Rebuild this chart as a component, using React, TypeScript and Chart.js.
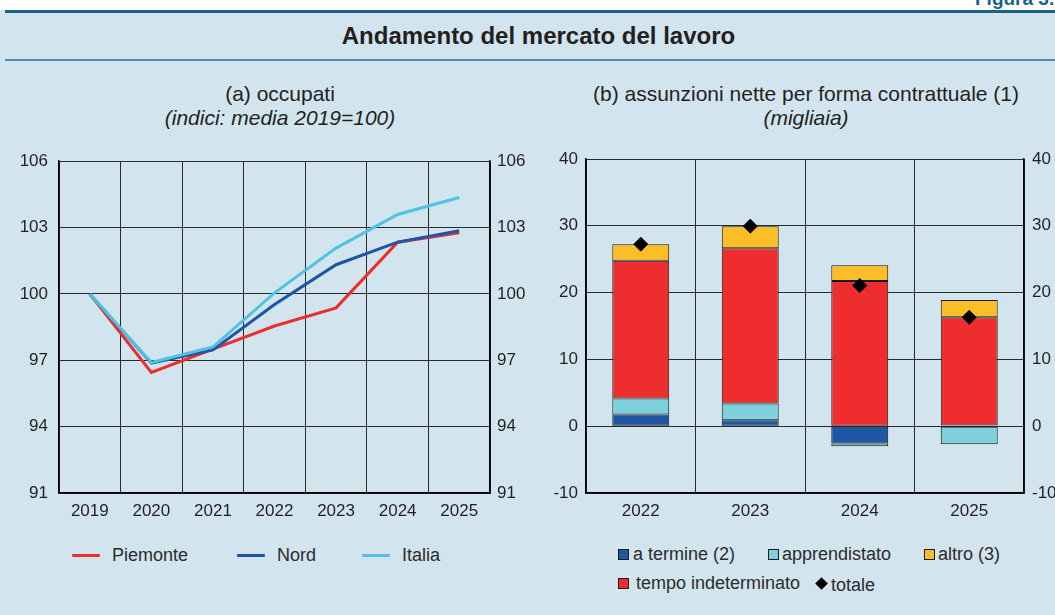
import React, { useEffect, useRef } from "react";
import { Chart, registerables } from "chart.js";

Chart.register(...registerables);

const years = ["2019", "2020", "2021", "2022", "2023", "2024", "2025"];
const piemonte = [100, 96.45, 97.5, 98.55, 99.37, 102.34, 102.77];
const nord = [100, 96.87, 97.47, 99.52, 101.32, 102.34, 102.86];
const italia = [100, 96.9, 97.6, 100.05, 102.07, 103.59, 104.36];

const barYears = ["2022", "2023", "2024", "2025"];
const aTermine = [1.75, 0.9, -2.6, 0.1];
const apprendistato = [2.4, 2.5, -0.4, -2.7];
const tempoIndeterminato = [20.6, 23.25, 21.75, 16.2];
const altro = [2.5, 3.3, 2.35, 2.6];
const totale = [27.25, 29.95, 21.05, 16.3];

const FONT = "'Liberation Sans', Arial, Helvetica, sans-serif";
const TXT = "#231f20";
const GRID = "#2a2a2a";
const BG = "#d2e4ee";

const C_RED = "#ea2f2d";
const C_BLUE = "#1f56a4";
const C_CYAN = "#4fc3df";
const C_BAR_CYAN = "#7dd0dc";
const C_YELLOW = "#fbbe27";

function fixW(w: number) {
  return (scale: any) => {
    scale.width = w;
  };
}
function fixH(h: number) {
  return (scale: any) => {
    scale.height = h;
  };
}

const tickFont = { family: FONT, size: 17 };

function LineChart() {
  const ref = useRef<HTMLCanvasElement>(null);
  useEffect(() => {
    const chart = new Chart(ref.current!, {
      type: "line",
      data: {
        labels: years,
        datasets: [
          { label: "Piemonte", data: piemonte, borderColor: C_RED, borderWidth: 3, pointRadius: 0, order: 2, tension: 0 },
          { label: "Nord", data: nord, borderColor: C_BLUE, borderWidth: 3, pointRadius: 0, order: 1, tension: 0 },
          { label: "Italia", data: italia, borderColor: C_CYAN, borderWidth: 3, pointRadius: 0, order: 0, tension: 0 },
        ],
      },
      options: {
        responsive: false,
        animation: false,
        layout: { padding: { top: 19, left: 0, right: 0, bottom: 0 } },
        plugins: { legend: { display: false }, tooltip: { enabled: false } },
        scales: {
          x: {
            offset: true,
            grid: { offset: true, color: GRID, lineWidth: 1, drawTicks: false },
            border: { color: "#000", width: 1.5 },
            ticks: { color: TXT, font: tickFont, padding: 8, maxRotation: 0 },
            afterFit: fixH(37),
          },
          y: {
            position: "left",
            min: 91,
            max: 106,
            grid: { color: GRID, lineWidth: 1, drawTicks: false },
            border: { color: "#000", width: 1.5 },
            ticks: { color: TXT, font: tickFont, padding: 11, stepSize: 3 },
            afterFit: fixW(59),
          },
          y2: {
            position: "right",
            min: 91,
            max: 106,
            grid: { display: false, drawTicks: false },
            border: { color: "#000", width: 1.5 },
            ticks: { color: TXT, font: tickFont, padding: 7, stepSize: 3 },
            afterFit: fixW(55),
          },
        },
      },
    });
    return () => chart.destroy();
  }, []);
  return <canvas ref={ref} width={545} height={390} style={{ display: "block" }} />;
}

function BarChart() {
  const ref = useRef<HTMLCanvasElement>(null);
  useEffect(() => {
    const barCommon = {
      type: "bar" as const,
      stack: "s",
      borderColor: "#1a1a1a",
      borderWidth: 1,
      borderSkipped: false,
      categoryPercentage: 1,
      barPercentage: 0.52,
      order: 1,
    };
    const chart = new Chart(ref.current!, {
      type: "bar",
      data: {
        labels: barYears,
        datasets: [
          { ...barCommon, label: "a termine (2)", data: aTermine, backgroundColor: C_BLUE },
          { ...barCommon, label: "apprendistato", data: apprendistato, backgroundColor: C_BAR_CYAN },
          { ...barCommon, label: "tempo indeterminato", data: tempoIndeterminato, backgroundColor: "#ee2e2e" },
          { ...barCommon, label: "altro (3)", data: altro, backgroundColor: C_YELLOW },
          {
            type: "line" as const,
            label: "totale",
            data: totale,
            stack: "tot",
            showLine: false,
            pointStyle: "rectRot",
            pointRadius: 7,
            pointBackgroundColor: "#000",
            pointBorderColor: "#000",
            borderColor: "#000",
            order: 0,
          } as any,
        ],
      },
      options: {
        responsive: false,
        animation: false,
        layout: { padding: { top: 19, left: 0, right: 0, bottom: 0 } },
        plugins: { legend: { display: false }, tooltip: { enabled: false } },
        scales: {
          x: {
            stacked: true,
            grid: { offset: true, color: GRID, lineWidth: 1, drawTicks: false },
            border: { color: "#000", width: 1.5 },
            ticks: { color: TXT, font: tickFont, padding: 8, maxRotation: 0 },
            afterFit: fixH(37),
          },
          y: {
            stacked: true,
            position: "left",
            min: -10,
            max: 40,
            grid: { color: GRID, lineWidth: 1, drawTicks: false },
            border: { color: "#000", width: 1.5 },
            ticks: { color: TXT, font: tickFont, padding: 8, stepSize: 10 },
            afterFit: fixW(41),
          },
          y2: {
            position: "right",
            min: -10,
            max: 40,
            grid: { display: false, drawTicks: false },
            border: { color: "#000", width: 1.5 },
            ticks: { color: TXT, font: tickFont, padding: 8, stepSize: 10 },
            afterFit: fixW(51),
          },
        },
      },
    });
    return () => chart.destroy();
  }, []);
  return <canvas ref={ref} width={530} height={390} style={{ display: "block" }} />;
}

const abs = (s: React.CSSProperties): React.CSSProperties => ({ position: "absolute", ...s });

function LineKey({ x, color, label, tx }: { x: number; color: string; label: string; tx: number }) {
  return (
    <>
      <div style={abs({ left: x, top: 554, width: 28, height: 3, background: color, borderRadius: 1 })} />
      <div style={abs({ left: tx, top: 544, fontSize: 18, lineHeight: "22px", color: "#2b2b2b" })}>{label}</div>
    </>
  );
}

function BoxKey({ x, y, color, label, tx }: { x: number; y: number; color: string; label: string; tx: number }) {
  return (
    <>
      <div style={abs({ left: x, top: y, width: 9, height: 9, background: color, border: "1px solid #1a1a1a" })} />
      <div style={abs({ left: tx, top: y - 6, fontSize: 18, lineHeight: "22px", color: "#2b2b2b" })}>{label}</div>
    </>
  );
}

export default function App() {
  return (
    <div
      style={abs({
        left: 0,
        top: 0,
        width: 1055,
        height: 615,
        overflow: "hidden",
        background: BG,
        fontFamily: FONT,
        color: TXT,
      })}
    >
      <div style={abs({ left: 0, top: 0, width: 1055, height: 10, background: "#ffffff" })} />
      <div
        style={abs({
          left: 975,
          top: -12,
          fontSize: 19,
          fontWeight: "bold",
          color: "#1b6187",
          lineHeight: "22px",
          whiteSpace: "nowrap",
        })}
      >
        Figura 3.
      </div>
      <div style={abs({ left: 5, top: 10, width: 1050, height: 3, background: "#1d6184" })} />
      <div
        style={abs({
          left: 0,
          top: 22,
          width: 1077,
          textAlign: "center",
          fontSize: 24,
          fontWeight: "bold",
          lineHeight: "28px",
          color: "#231f20",
          whiteSpace: "nowrap",
        })}
      >
        Andamento del mercato del lavoro
      </div>
      <div style={abs({ left: 5, top: 59, width: 1050, height: 2, background: "#4a8db0" })} />

      <div style={abs({ left: 5, top: 81, width: 550, textAlign: "center", fontSize: 21, lineHeight: "25px" })}>
        (a) occupati
      </div>
      <div
        style={abs({ left: 5, top: 105, width: 550, textAlign: "center", fontSize: 21, lineHeight: "25px", fontStyle: "italic" })}
      >
        (indici: media 2019=100)
      </div>
      <div style={abs({ left: 556, top: 81, width: 500, textAlign: "center", fontSize: 21, lineHeight: "25px", whiteSpace: "nowrap" })}>
        (b) assunzioni nette per forma contrattuale (1)
      </div>
      <div
        style={abs({ left: 556, top: 105, width: 500, textAlign: "center", fontSize: 21, lineHeight: "25px", fontStyle: "italic" })}
      >
        (migliaia)
      </div>

      <div style={abs({ left: 0, top: 140, width: 545, height: 390 })}>
        <LineChart />
      </div>
      <div style={abs({ left: 545, top: 140, width: 530, height: 390 })}>
        <BarChart />
      </div>

      <LineKey x={72} color={C_RED} label="Piemonte" tx={112} />
      <LineKey x={237} color={C_BLUE} label="Nord" tx={277} />
      <LineKey x={362} color={C_CYAN} label="Italia" tx={402} />

      <BoxKey x={618} y={549} color={C_BLUE} label="a termine (2)" tx={633} />
      <BoxKey x={768} y={549} color={C_BAR_CYAN} label="apprendistato" tx={782} />
      <BoxKey x={924} y={549} color={C_YELLOW} label="altro (3)" tx={938} />
      <BoxKey x={618} y={578} color="#ee2e2e" label="tempo indeterminato" tx={636} />
      <div
        style={abs({ left: 817, top: 579, width: 9, height: 9, background: "#000", transform: "rotate(45deg)" })}
      />
      <div style={abs({ left: 831, top: 574, fontSize: 18, lineHeight: "22px", color: "#2b2b2b" })}>totale</div>
    </div>
  );
}
